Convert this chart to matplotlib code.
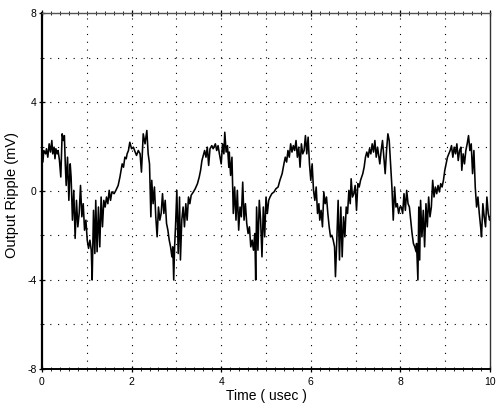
import numpy as np
import matplotlib
matplotlib.use("Agg")
import matplotlib.pyplot as plt
from matplotlib.ticker import MultipleLocator

# ripple trace, in five 2 usec pieces
t_a = [0.00, 0.02, 0.04, 0.08, 0.10, 0.13, 0.16, 0.19, 0.22, 0.24, 0.27, 0.29, 0.31, 0.34, 0.36, 0.39,
       0.42, 0.45, 0.48, 0.50, 0.52, 0.54, 0.57, 0.60, 0.63, 0.65, 0.68, 0.71, 0.74, 0.77, 0.80, 0.83,
       0.86, 0.89, 0.92, 0.95, 0.98, 1.01, 1.04, 1.07, 1.10, 1.12, 1.15, 1.18, 1.20, 1.23, 1.26, 1.29,
       1.32, 1.35, 1.38, 1.41, 1.44, 1.47, 1.50, 1.53, 1.56, 1.61, 1.65, 1.70, 1.74, 1.79, 1.82, 1.85,
       1.88, 1.90, 1.93]
v_a = [1.75, 1.30, 1.82, 1.67, 1.90, 1.52, 2.12, 1.75, 2.27, 1.67, 1.97, 1.45, 1.90, 1.67, 1.82, 1.37,
       0.63, 2.57, 2.27, 2.49, 1.22, 0.25, 1.52, -0.42, 1.22, 0.63, -1.31, 0.03, -2.13, -0.42, -1.61, -1.01,
       0.25, -1.16, -0.57, -1.76, -1.31, -2.21, -2.58, -2.21, -2.66, -4.00, -0.87, -2.81, -0.42, -2.73, -0.72, -2.51,
       -0.27, -1.61, -0.42, -0.72, -0.27, -0.57, 0.03, -0.42, -0.04, -0.12, 0.03, 0.25, 0.63, 1.22, 1.07, 1.52,
       1.45, 1.67, 1.82]

t_b = [1.96, 2.00, 2.04, 2.08, 2.11, 2.15, 2.19, 2.22, 2.26, 2.30, 2.34, 2.37, 2.40, 2.43, 2.45, 2.48,
       2.51, 2.54, 2.57, 2.60, 2.63, 2.66, 2.69, 2.72, 2.75, 2.78, 2.81, 2.84, 2.87, 2.90, 2.92, 2.94,
       2.96, 2.98, 3.01, 3.04, 3.07, 3.09, 3.12, 3.15, 3.18, 3.21, 3.24, 3.27, 3.30, 3.33, 3.38, 3.42,
       3.47, 3.51, 3.54, 3.57, 3.60, 3.63, 3.66, 3.69, 3.72, 3.75, 3.79, 3.82, 3.87, 3.90, 3.93, 3.96]
v_b = [2.19, 1.90, 1.97, 1.75, 1.60, 1.82, 1.67, 0.85, 2.57, 2.12, 2.72, 1.67, 1.22, -1.16, 0.48, -0.57,
       0.18, -1.16, -2.06, -0.72, -1.31, -1.01, -0.12, -1.01, -0.42, -1.46, -1.76, -2.21, -2.51, -2.96, -2.51, -4.00,
       -2.51, -1.61, 0.03, -2.81, -0.27, -3.10, -1.31, -0.72, -1.61, -0.57, -1.31, -0.27, -0.57, -0.19, -0.04, 0.10,
       0.33, 0.63, 0.93, 1.37, 1.60, 1.82, 1.52, 1.97, 1.15, 1.90, 2.04, 1.90, 2.12, 1.82, 2.04, 1.67]

t_c = [4.00, 4.03, 4.06, 4.08, 4.11, 4.14, 4.17, 4.18, 4.21, 4.24, 4.27, 4.30, 4.33, 4.36, 4.39, 4.42,
       4.45, 4.48, 4.51, 4.54, 4.57, 4.60, 4.63, 4.66, 4.69, 4.72, 4.75, 4.77, 4.79, 4.82, 4.85, 4.88,
       4.91, 4.94, 4.97, 5.00, 5.03, 5.06, 5.09, 5.13, 5.18, 5.22, 5.27, 5.31, 5.36, 5.40, 5.43, 5.46,
       5.49, 5.52, 5.55, 5.58, 5.61, 5.64, 5.67, 5.70, 5.73, 5.76, 5.79, 5.82, 5.85, 5.88, 5.91, 5.94,
       5.97]
v_c = [1.22, 2.12, 1.67, 2.64, 1.75, 2.04, 1.07, 1.75, 0.70, 1.52, -1.01, 0.18, -1.31, 0.03, -1.76, -0.72,
       -1.16, 0.40, -1.31, -0.57, -1.46, -1.91, -1.61, -2.51, -2.21, -2.66, -1.91, -4.00, -0.72, -2.66, -0.42, -1.31,
       -2.96, -0.72, -2.06, -0.27, -1.01, -0.42, -0.27, -0.12, -0.04, 0.10, 0.18, 0.48, 0.78, 1.22, 1.52, 1.30,
       1.82, 1.52, 2.12, 1.75, 2.04, 1.82, 2.27, 1.52, 1.97, 1.07, 2.12, 1.67, 1.82, 2.49, 1.67, 2.42,
       1.22]

t_d = [6.00, 6.03, 6.06, 6.09, 6.12, 6.15, 6.18, 6.20, 6.23, 6.26, 6.29, 6.32, 6.35, 6.38, 6.41, 6.44,
       6.47, 6.50, 6.53, 6.55, 6.58, 6.61, 6.64, 6.67, 6.70, 6.73, 6.76, 6.79, 6.82, 6.85, 6.88, 6.90,
       6.93, 6.96, 6.99, 7.02, 7.05, 7.08, 7.11, 7.16, 7.19, 7.22, 7.25, 7.28, 7.31, 7.34, 7.37, 7.40,
       7.43, 7.46, 7.49, 7.51, 7.54, 7.57, 7.60, 7.63, 7.66, 7.69, 7.72, 7.75, 7.78, 7.81, 7.84, 7.87,
       7.90, 7.93, 7.96, 7.99]
v_d = [0.48, 1.22, 0.03, -0.42, 0.18, -1.01, -0.57, -1.31, -0.87, -1.61, -0.04, -0.57, -0.27, -1.01, -1.61, -2.06,
       -1.99, -2.21, -2.51, -3.85, -2.21, -0.42, -3.10, -0.72, -2.96, -1.16, -2.06, -0.72, -1.01, 0.03, -0.57, 0.55,
       -0.27, -0.12, 0.25, -0.87, 0.33, 0.18, 0.48, 0.78, 1.07, 1.52, 1.75, 1.52, 1.90, 1.67, 2.12, 1.75,
       2.27, 1.52, 1.97, 1.67, 1.22, 1.82, 2.27, 1.52, 0.78, 1.82, 2.57, 2.27, 1.22, 0.18, -1.31, 0.18,
       -0.72, -0.57, -1.01, -0.72]

t_e = [8.02, 8.05, 8.08, 8.11, 8.14, 8.17, 8.20, 8.23, 8.26, 8.29, 8.32, 8.35, 8.36, 8.39, 8.41, 8.43,
       8.45, 8.48, 8.51, 8.54, 8.57, 8.60, 8.63, 8.66, 8.69, 8.72, 8.75, 8.78, 8.81, 8.84, 8.87, 8.90,
       8.93, 8.96, 8.99, 9.02, 9.05, 9.08, 9.11, 9.14, 9.17, 9.20, 9.23, 9.26, 9.29, 9.32, 9.35, 9.37,
       9.40, 9.43, 9.46, 9.49, 9.52, 9.55, 9.58, 9.61, 9.64, 9.67, 9.70, 9.73, 9.76, 9.79, 9.81, 9.84,
       9.87, 9.90, 9.93, 9.96, 9.99, 10.0]
v_e = [-0.72, -1.01, -0.12, -0.87, 0.03, -0.57, -0.72, -1.31, -1.91, -2.36, -2.51, -2.73, -2.36, -4.00, -0.72, -3.10,
       -0.42, -2.06, -0.87, -2.51, -0.57, -1.61, -0.27, -1.16, -0.72, 0.48, -0.27, 0.18, -0.12, 0.25, -0.04, 0.33,
       0.18, 0.48, 0.93, 1.22, 1.52, 1.67, 1.82, 2.04, 1.52, 1.97, 1.67, 2.12, 1.37, 1.82, 1.97, 0.93,
       1.67, 1.22, 1.82, 2.12, 2.49, 1.82, 2.12, 0.78, 1.82, 0.18, -0.72, -0.27, -1.01, -1.61, -2.06, -0.57,
       -1.16, -1.61, -0.27, -1.01, -1.31, -1.16]

time_us = np.array(t_a + t_b + t_c + t_d + t_e)
ripple_mv = np.array(v_a + v_b + v_c + v_d + v_e)

plt.rcParams['font.family'] = ['Liberation Sans', 'DejaVu Sans']
plt.rcParams['axes.unicode_minus'] = False

fig = plt.figure(figsize=(4.98, 4.12), dpi=100)
ax = fig.add_axes([0.0843, 0.1044, 0.8997, 0.864])

ax.plot(time_us, ripple_mv, color='black', lw=1.15)

ax.set_xlim(0, 10)
ax.set_ylim(-8, 8)
ax.xaxis.set_major_locator(MultipleLocator(2))
ax.xaxis.set_minor_locator(MultipleLocator(0.2))
ax.yaxis.set_major_locator(MultipleLocator(4))
ax.yaxis.set_minor_locator(MultipleLocator(2))

# dotted grid every 1 usec and every 2 mV
for gx in range(1, 10):
    ax.axvline(gx, color='black', lw=0.8, ls=(0, (1, 6)), zorder=0)
for gy in range(-6, 7, 2):
    ax.axhline(gy, color='black', lw=0.8, ls=(0, (1, 6)), zorder=0)

ax.tick_params(which='both', direction='inout', top=True, right=False, labelsize=7.5, pad=1.5)
ax.tick_params(which='major', length=5, width=0.9)
ax.tick_params(which='minor', length=3, width=0.6)
ax.tick_params(axis='x', pad=3)

ax.spines['left'].set_linewidth(1.6)
ax.spines['bottom'].set_linewidth(1.4)
ax.spines['top'].set_linewidth(1.0)
ax.spines['top'].set_color('#555555')
ax.spines['right'].set_linewidth(1.0)
ax.spines['right'].set_color('#333333')

ax.set_xlabel('Time ( usec )', fontsize=10, labelpad=2)
ax.set_ylabel('Output Ripple (mV)', fontsize=10.5)
ax.yaxis.set_label_coords(-0.051, 0.49)

plt.savefig('out.png', dpi=100)
